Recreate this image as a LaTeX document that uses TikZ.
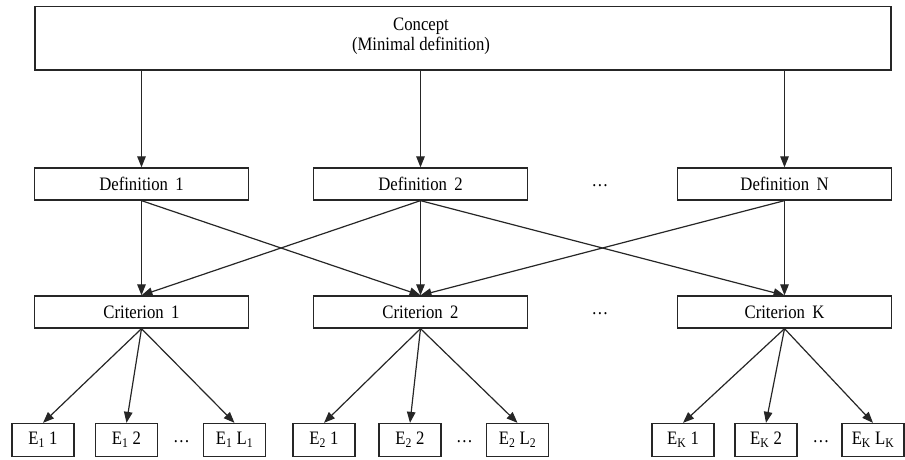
\documentclass[tikz,border=0pt]{standalone}
\usepackage{fontspec}
\setmainfont{Liberation Serif}[FakeStretch=0.88]
\usetikzlibrary{arrows.meta}
\begin{document}
\begin{tikzpicture}[x=1pt,y=-1pt,
  box/.style={draw=black!85,line width=1.3pt,rectangle,inner sep=0pt,
    font=\fontsize{19}{22}\selectfont},
  midbox/.style={box,minimum width=214pt,minimum height=32pt},
  ebox/.style={box,minimum width=62pt,minimum height=33pt},
  arr/.style={draw=black!85,line width=1.2pt,-{Triangle[length=11pt,width=8.5pt]}},
  dots/.style={font=\fontsize{19}{22}\selectfont,inner sep=0pt}]
\useasboundingbox (0,0) rectangle (905,460);
\node[box,minimum width=856pt,minimum height=63.5pt] (concept) at (463,38.25) {};
\node[dots,align=center,font=\fontsize{19}{20}\selectfont] (ctext) at (421,36) {Concept\\(Minimal definition)};
\node[midbox] (d1) at (141.5,184) {Definition\,\ 1};
\node[midbox] (d2) at (420.5,184) {Definition\,\ 2};
\node[midbox] (dn) at (784.5,184) {Definition\,\ N};
\node[dots] (dd) at (600,186) {\dots};
\node[midbox] (c1) at (141.5,312) {Criterion\,\ 1};
\node[midbox] (c2) at (420.5,312) {Criterion\,\ 2};
\node[midbox] (ck) at (784.5,312) {Criterion\,\ K};
\node[dots] (cd) at (600,314) {\dots};
\node[ebox] (e11) at (43,440) {E\textsubscript{1} 1};
\node[ebox] (e12) at (126.5,440) {E\textsubscript{1} 2};
\node[ebox] (e1l) at (234.5,440) {E\textsubscript{1} L\textsubscript{1}};
\node[dots] (ed1) at (181.5,442) {\dots};
\node[ebox] (e21) at (324,440) {E\textsubscript{2} 1};
\node[ebox] (e22) at (410,440) {E\textsubscript{2} 2};
\node[ebox] (e2l) at (517.5,440) {E\textsubscript{2} L\textsubscript{2}};
\node[dots] (ed2) at (464.5,442) {\dots};
\node[ebox] (ek1) at (683,440) {E\textsubscript{K} 1};
\node[ebox] (ek2) at (766,440) {E\textsubscript{K} 2};
\node[ebox] (ekl) at (873,440) {E\textsubscript{K} L\textsubscript{K}};
\node[dots] (edk) at (821,442) {\dots};
\foreach \d in {d1,d2,dn}
  \draw[arr] (\d.north |- concept.south) -- (\d.north);
\draw[arr] (d1.south) -- (c1.north);
\draw[arr] (d1.south) -- (c2.north);
\draw[arr] (d2.south) -- (c1.north);
\draw[arr] (d2.south) -- (c2.north);
\draw[arr] (d2.south) -- (ck.north);
\draw[arr] (dn.south) -- (c2.north);
\draw[arr] (dn.south) -- (ck.north);
\foreach \e in {e11,e12,e1l} \draw[arr] (c1.south) -- (\e.north);
\foreach \e in {e21,e22,e2l} \draw[arr] (c2.south) -- (\e.north);
\foreach \e in {ek1,ek2,ekl} \draw[arr] (ck.south) -- (\e.north);
\end{tikzpicture}
\end{document}
